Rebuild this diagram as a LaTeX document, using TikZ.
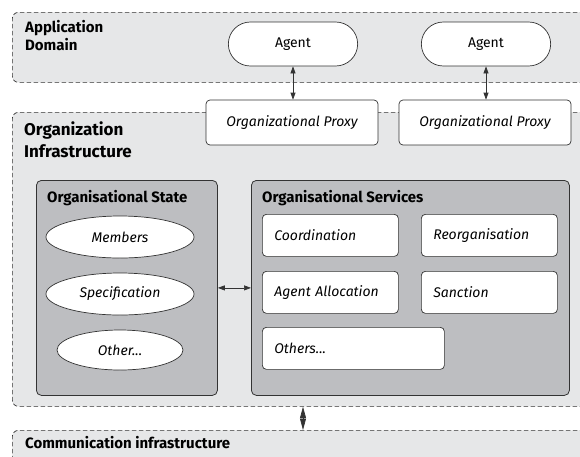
\documentclass[tikz,border=0pt]{standalone}
\usepackage{fontspec}
\setmainfont{Fira Sans}
\usetikzlibrary{arrows.meta,shapes.geometric,shapes.misc}
\definecolor{lightbg}{HTML}{E6E7E8}
\definecolor{darkbg}{HTML}{BDBEC1}
\definecolor{edgegray}{HTML}{333333}
\tikzset{>/.tip={Triangle[length=7pt,width=5pt]},
  region/.style={draw=edgegray, fill=lightbg, line width=0.7pt, dash pattern=on 4.5pt off 2.5pt, rounded corners=6pt, anchor=north west, inner sep=0pt},
  panel/.style={draw=edgegray, fill=darkbg, rounded corners=5pt, anchor=north west, inner sep=0pt, line width=0.8pt},
  agent/.style={draw=edgegray, line width=0.7pt, fill=white, rounded rectangle, minimum width=136pt, minimum height=44pt, font=\fontsize{14}{16}\selectfont},
  proxy/.style={draw=edgegray, line width=0.7pt, fill=white, rounded corners=4pt, minimum width=172pt, minimum height=45pt, font=\fontsize{14}{16}\selectfont\itshape},
  role/.style={draw=edgegray, line width=0.7pt, fill=white, ellipse, minimum height=42pt, font=\fontsize{14}{16}\selectfont\itshape},
  service/.style={draw=edgegray, line width=0.7pt, fill=white, rounded corners=4pt, anchor=north west, minimum height=42pt, inner xsep=12pt, align=left, font=\fontsize{14}{16}\selectfont\itshape},
  title/.style={anchor=north west, inner sep=0pt, align=left, font=\fontsize{15}{18}\selectfont\bfseries}}
\begin{document}
\begin{tikzpicture}[x=1pt,y=-1pt]
\useasboundingbox (0,0) rectangle (580,456);
\clip (0,0) rectangle (580,456);

% layers
\node[region, minimum width=620pt, minimum height=70pt] (appdom) at (12,12) {};
\node[region, minimum width=620pt, minimum height=294pt] (orginfra) at (12,112) {};
\node[region, minimum width=620pt, minimum height=60pt] (comminfra) at (12,430) {};

\node[title] (appdom-t) at (25,20) {Application\\Domain};
\node[title, font=\fontsize{17}{22}\selectfont\bfseries] (orginfra-t) at (24,122) {Organization\\Infrastructure};
\node[title] (comminfra-t) at (25,436) {Communication infrastructure};

% agents and proxies
\node[agent] (agent1) at (293,44) {Agent};
\node[agent] (agent2) at (486,44) {Agent};
\node[proxy] (proxy1) at (292,122.5) {Organizational Proxy};
\node[proxy] (proxy2) at (485,122.5) {Organizational Proxy};

% state and services
\node[panel, minimum width=181pt, minimum height=215pt] (state) at (36,180) {};
\node[panel, minimum width=318pt, minimum height=215pt] (services) at (251,180) {};
\node[title] (state-t) at (47,190) {Organisational State};
\node[title] (services-t) at (262,190) {Organisational Services};

\node[role, minimum width=148pt] (members) at (120,237) {Members};
\node[role, minimum width=148pt] (spec) at (120,294) {Specification};
\node[role, minimum width=126pt, minimum height=40pt] (other) at (120,350) {Other...};

\node[service, text width=112pt] (coord) at (262,214) {Coordination};
\node[service, text width=112pt] (reorg) at (421,214) {Reorganisation};
\node[service, text width=112pt] (alloc) at (262,271) {Agent Allocation};
\node[service, text width=112pt] (sanction) at (421,271) {Sanction};
\node[service, text width=158pt] (others) at (262,327) {Others...};

% links
\coordinate (link) at (303,0);
\draw[<->, edgegray, line width=0.7pt] (agent1.south) -- (agent1.south |- proxy1.north);
\draw[<->, edgegray, line width=0.7pt] (agent2.south) -- (agent2.south |- proxy2.north);
\draw[<->, edgegray, line width=0.7pt] (state) -- (services);
\draw[<->, edgegray, line width=0.7pt, >={Triangle[length=11.5pt,width=6pt]}] (orginfra.south -| link) -- (comminfra.north -| link);
\end{tikzpicture}
\end{document}
